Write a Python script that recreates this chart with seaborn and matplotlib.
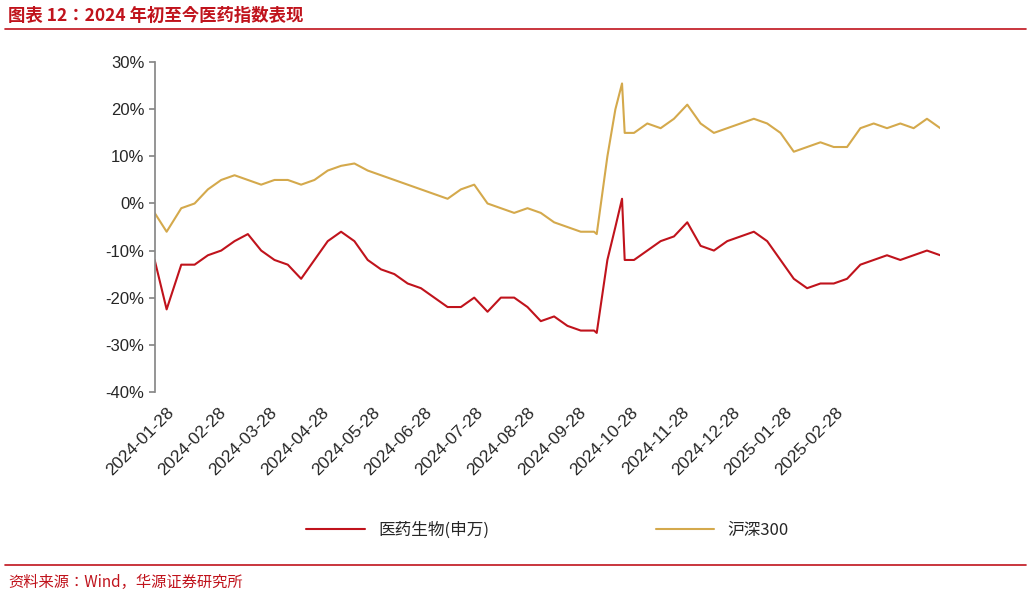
import matplotlib.pyplot as plt
import pandas as pd
import seaborn as sns

CJK = ['Noto Sans CJK SC', 'Noto Sans CJK JP', 'Noto Sans CJK TC', 'Noto Sans CJK KR', 'DejaVu Sans']
sns.set_theme(style='white')
plt.rcParams['font.family'] = 'sans-serif'
plt.rcParams['font.sans-serif'] = CJK

# x is position on the trading-day axis (weekly steps, a few extra points at sharp moves)
x = [0, 0.9, 2, 3, 4, 5, 6, 7, 8, 9, 10, 11, 12, 13, 14, 15, 16, 17, 18, 19,
     20, 21, 22, 23, 24, 25, 26, 27, 28, 29, 30, 31, 32, 33, 33.2, 34, 34.6, 35.1, 35.3,
     36, 37, 38, 39, 40, 41, 42, 43, 44, 45, 46, 47, 48, 49, 50, 51, 52, 53, 54,
     55, 56, 57, 58, 59]
pharma = [-12, -22.5, -13, -13, -11, -10, -8, -6.5, -10, -12, -13, -16, -12, -8, -6, -8,
          -12, -14, -15, -17, -18, -20, -22, -22, -20, -23, -20, -20, -22, -25, -24, -26,
          -27, -27, -27.5, -12, -5, 1, -12, -12, -10, -8, -7, -4, -9, -10, -8, -7, -6,
          -8, -12, -16, -18, -17, -17, -16, -13, -12, -11, -12, -11, -10, -11]
csi300 = [-2, -6, -1, 0, 3, 5, 6, 5, 4, 5, 5, 4, 5, 7, 8, 8.5, 7, 6, 5, 4, 3, 2, 1, 3, 4,
          0, -1, -2, -1, -2, -4, -5, -6, -6, -6.5, 10, 20, 25.5, 15, 15, 17, 16, 18, 21,
          17, 15, 16, 17, 18, 17, 15, 11, 12, 13, 12, 12, 16, 17, 16, 17, 16, 18, 16]
tick_pos = [0.9 + 3.865 * j for j in range(14)]
tick_labels = ['2024-01-28', '2024-02-28', '2024-03-28', '2024-04-28', '2024-05-28',
               '2024-06-28', '2024-07-28', '2024-08-28', '2024-09-28', '2024-10-28',
               '2024-11-28', '2024-12-28', '2025-01-28', '2025-02-28']

df = pd.DataFrame({'x': x, '医药生物(申万)': pharma, '沪深300': csi300})
long = df.melt(id_vars='x', var_name='series', value_name='pct')

fig = plt.figure(figsize=(10.31, 5.99), dpi=100)
ax = fig.add_axes([0.150, 0.346, 0.762, 0.550])
sns.lineplot(data=long, x='x', y='pct', hue='series', ax=ax, linewidth=1.5,
             palette={'医药生物(申万)': '#C0131C', '沪深300': '#D4A94C'})

ax.set_xlim(0, 59)
ax.set_ylim(-40, 30)
ax.set_yticks(range(-40, 31, 10))
ax.set_yticklabels([f'{v}%' for v in range(-40, 31, 10)], fontsize=12, family='Liberation Sans')
ax.set_xticks(tick_pos)
ax.set_xticklabels(tick_labels, rotation=45, ha='right', rotation_mode='anchor',
                   fontsize=12.5, family='Liberation Sans')
ax.set_xlabel('')
ax.set_ylabel('')
for s in ['top', 'right', 'bottom']:
    ax.spines[s].set_visible(False)
ax.spines['left'].set_color('#888888')
ax.tick_params(axis='y', left=True, length=4, color='#888888')
ax.tick_params(axis='x', bottom=False)

ax.legend(loc='upper center', bbox_to_anchor=(0.5, -0.35), ncol=2, frameon=False,
          fontsize=12, columnspacing=10, handlelength=3.5)

fig.text(0.008, 0.973, '图表 12：2024 年初至今医药指数表现', fontsize=12.5,
         fontweight='bold', color='#C0131C', va='center')
fig.add_artist(plt.Line2D([0.005, 0.995], [0.952, 0.952], color='#C0131C', lw=1.2))
fig.add_artist(plt.Line2D([0.005, 0.995], [0.057, 0.057], color='#C0131C', lw=1.2))
fig.text(0.008, 0.027, '资料来源：Wind，华源证券研究所', fontsize=11, color='#C0131C', va='center')

fig.savefig('out.png', dpi=100)
